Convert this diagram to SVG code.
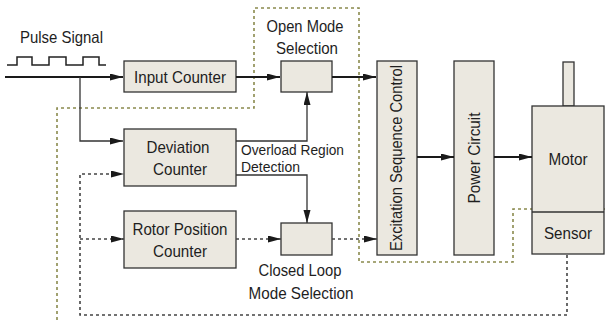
<svg xmlns="http://www.w3.org/2000/svg" width="606" height="320" viewBox="0 0 606 320">
<defs>
<style>
.box{fill:#ebe8e0;stroke:#333;stroke-width:1.3}
.t{font-family:"Liberation Sans",Arial,sans-serif;font-size:16.5px;fill:#1e1e1e}
.s{font-size:14px}
.m{text-anchor:middle}
.thick{fill:none;stroke:#1a1a1a;stroke-width:2}
.thin{fill:none;stroke:#333;stroke-width:1.3}
.dot{fill:none;stroke:#444;stroke-width:1.6;stroke-dasharray:3 3}
.olive{fill:none;stroke:#8a8a4e;stroke-width:1.6;stroke-dasharray:3 3}
</style>
<marker id="ah" markerUnits="userSpaceOnUse" markerWidth="13" markerHeight="8" refX="13" refY="3.5" orient="auto">
<path d="M0,0 L13,3.5 L0,7 z" fill="#1a1a1a"/>
</marker>
</defs>
<rect width="606" height="320" fill="#fff"/>

<g id="boundary">
<path class="olive" d="M57,320 V108 H254 V8 H359 V262 H513 V209 H606"/>
</g>

<g id="pulse">
<text class="t" x="20" y="43" textLength="83" lengthAdjust="spacingAndGlyphs">Pulse Signal</text>
<path d="M7,65 H17 V57 H32 V65 H49 V57 H66 V65 H83 V57 H99 V65 H106" fill="none" stroke="#222" stroke-width="1.5"/>
</g>

<g id="input-counter">
<rect class="box" x="124" y="61" width="112" height="31"/>
<text class="t m" x="180" y="83" textLength="92" lengthAdjust="spacingAndGlyphs">Input Counter</text>
</g>

<g id="deviation-counter">
<rect class="box" x="124" y="129" width="112" height="57"/>
<text class="t m" x="178" y="153" textLength="63" lengthAdjust="spacingAndGlyphs">Deviation</text>
<text class="t m" x="180" y="175" textLength="54" lengthAdjust="spacingAndGlyphs">Counter</text>
</g>

<g id="rotor-position-counter">
<rect class="box" x="124" y="211" width="112" height="57"/>
<text class="t m" x="180" y="235" textLength="95" lengthAdjust="spacingAndGlyphs">Rotor Position</text>
<text class="t m" x="180" y="257" textLength="54" lengthAdjust="spacingAndGlyphs">Counter</text>
</g>

<g id="open-mode">
<rect class="box" x="281" y="61" width="51" height="31"/>
<text class="t m" x="305" y="32" textLength="77" lengthAdjust="spacingAndGlyphs">Open Mode</text>
<text class="t m" x="307" y="54" textLength="62" lengthAdjust="spacingAndGlyphs">Selection</text>
</g>

<g id="closed-loop">
<rect class="box" x="281" y="223" width="51" height="32"/>
<text class="t m" x="300" y="276" textLength="83" lengthAdjust="spacingAndGlyphs">Closed Loop</text>
<text class="t m" x="301" y="299" textLength="105" lengthAdjust="spacingAndGlyphs">Mode Selection</text>
</g>

<g id="overload-label">
<text class="t s" x="241" y="155" textLength="103" lengthAdjust="spacingAndGlyphs">Overload Region</text>
<text class="t s" x="241" y="172" textLength="59" lengthAdjust="spacingAndGlyphs">Detection</text>
</g>

<g id="excitation">
<rect class="box" x="377" y="61" width="40" height="194"/>
<text class="t m" transform="translate(402,158) rotate(-90)" textLength="186" lengthAdjust="spacingAndGlyphs">Excitation Sequence Control</text>
</g>

<g id="power">
<rect class="box" x="454" y="61" width="40" height="194"/>
<text class="t m" transform="translate(480,158) rotate(-90)" textLength="91" lengthAdjust="spacingAndGlyphs">Power Circuit</text>
</g>

<g id="motor">
<rect class="box" x="563" y="62" width="11" height="44"/>
<rect class="box" x="532" y="106" width="72" height="148"/>
<text class="t m" x="568" y="165" textLength="39" lengthAdjust="spacingAndGlyphs">Motor</text>
</g>

<g id="sensor">
<line x1="532" y1="212" x2="604" y2="212" stroke="#333" stroke-width="1.3"/>
<text class="t m" x="568" y="239" textLength="48" lengthAdjust="spacingAndGlyphs">Sensor</text>
</g>

<g id="connectors">
<path class="thick" d="M5,77 H123" marker-end="url(#ah)"/>
<path class="thin" d="M80,77 V141 H123" marker-end="url(#ah)"/>
<path class="thick" d="M236,77 H280" marker-end="url(#ah)"/>
<path class="thick" d="M332,77 H376" marker-end="url(#ah)"/>
<path class="thin" d="M236,141 H307 V92" marker-end="url(#ah)"/>
<path class="thin" d="M236,175 H307 V223" marker-end="url(#ah)"/>
<path class="thick" d="M417,157 H454" marker-end="url(#ah)"/>
<path class="thick" d="M494,157 H532" marker-end="url(#ah)"/>
<path class="dot" d="M236,239 H281" marker-end="url(#ah)"/>
<path class="dot" d="M332,239 H377" marker-end="url(#ah)"/>
<path class="dot" d="M567,255 V315 H80 V174 H124" marker-end="url(#ah)"/>
<path class="dot" d="M80,239 H124" marker-end="url(#ah)"/>
</g>
</svg>
